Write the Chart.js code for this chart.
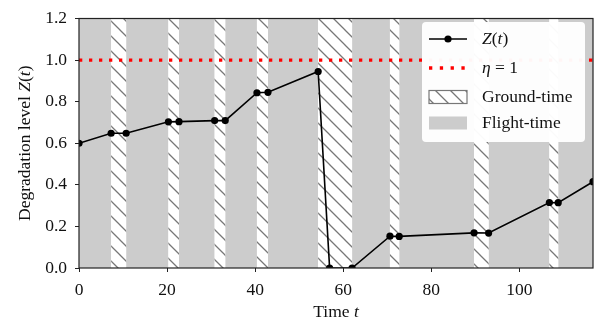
<!DOCTYPE html>
<html>
<head>
<meta charset="utf-8">
<script src="https://cdn.jsdelivr.net/npm/chart.js@4"></script>
<style>
  html, body { margin: 0; padding: 0; background: #fff; }
</style>
</head>
<body>
<canvas id="chart" width="602" height="324"></canvas>
<script>
// --- data ---
const timeT = [0, 7.3, 10.7, 20.3, 22.7, 30.8, 33.2, 40.4, 42.9, 54.3, 56.9, 62.0, 70.6, 72.7, 89.7, 93.0, 106.8, 108.8, 116.7];
const zValues = [0.600, 0.648, 0.648, 0.703, 0.704, 0.709, 0.709, 0.843, 0.845, 0.945, 0, 0, 0.153, 0.152, 0.169, 0.168, 0.315, 0.314, 0.415];
const etaValue = 1;
const groundStart = [7.3, 20.3, 30.8, 40.4, 54.3, 70.6, 89.7, 106.8];
const groundEnd = [10.7, 22.7, 33.2, 42.9, 62.0, 72.7, 93.0, 108.8];
const flightStart = [0, 10.7, 22.7, 33.2, 42.9, 62.0, 72.7, 93.0, 108.8];
const flightEnd = [7.3, 20.3, 30.8, 40.4, 54.3, 70.6, 89.7, 106.8, 116.7];
const yTicks = [0, 0.2, 0.4, 0.6, 0.8, 1.0, 1.2];
const xTicks = [0, 20, 40, 60, 80, 100];

const SERIF = '"Liberation Serif", "DejaVu Serif", serif';
const FS = 17.5;
const GRAY = '#cccccc';
const HATCH = '#777777';

// hatch pattern '\\'
function makeHatch(ctx) {
    const s = 15;
    const c = document.createElement('canvas');
    c.width = s; c.height = s;
    const g = c.getContext('2d');
    g.fillStyle = '#fff';
    g.fillRect(0, 0, s, s);
    g.strokeStyle = HATCH;
    g.lineWidth = 1.3;
    g.beginPath();
    g.moveTo(-2, -2); g.lineTo(s + 2, s + 2);
    g.moveTo(-2, s - 2); g.lineTo(2, s + 2);
    g.moveTo(s - 2, -2); g.lineTo(s + 2, 2);
    g.stroke();
    return ctx.createPattern(c, 'repeat');
}

// texto com partes em itálico
function drawRich(ctx, parts, x, y, align) {
    let total = 0;
    parts.forEach(p => {
        ctx.font = (p[1] ? 'italic ' : '') + FS + 'px ' + SERIF;
        total += ctx.measureText(p[0]).width;
    });
    let cx = align === 'center' ? x - total / 2 : x;
    ctx.textAlign = 'left';
    ctx.textBaseline = 'middle';
    parts.forEach(p => {
        ctx.font = (p[1] ? 'italic ' : '') + FS + 'px ' + SERIF;
        ctx.fillText(p[0], cx, y);
        cx += ctx.measureText(p[0]).width;
    });
}

const stripes = {
    id: 'stripes',
    beforeDatasetsDraw(chart) {
        const { ctx, chartArea: a, scales: { x, y } } = chart;
        const pat = makeHatch(ctx);
        ctx.save();
        ctx.beginPath();
        ctx.rect(a.left, a.top, a.right - a.left, a.bottom - a.top);
        ctx.clip();
        ctx.fillStyle = GRAY;
        flightStart.forEach((s, i) => {
            const x0 = x.getPixelForValue(s), x1 = x.getPixelForValue(flightEnd[i]);
            ctx.fillRect(x0, y.getPixelForValue(1.2), x1 - x0, y.getPixelForValue(0) - y.getPixelForValue(1.2));
        });
        ctx.fillStyle = pat;
        groundStart.forEach((s, i) => {
            const x0 = x.getPixelForValue(s), x1 = x.getPixelForValue(groundEnd[i]);
            ctx.fillRect(x0, y.getPixelForValue(1.2), x1 - x0, y.getPixelForValue(0) - y.getPixelForValue(1.2));
        });
        ctx.restore();
    },
    afterDatasetsDraw(chart) {
        const { ctx, chartArea: a } = chart;
        ctx.save();
        ctx.strokeStyle = '#222';
        ctx.lineWidth = 1.2;
        ctx.strokeRect(a.left, a.top, a.right - a.left, a.bottom - a.top);
        ctx.restore();
    },
    afterDraw(chart) {
        const { ctx, chartArea: a } = chart;
        ctx.save();
        ctx.fillStyle = '#111';
        // axis titles
        drawRich(ctx, [['Time ', false], ['t', true]], (a.left + a.right) / 2, 312, 'center');
        ctx.save();
        ctx.translate(25, (a.top + a.bottom) / 2);
        ctx.rotate(-Math.PI / 2);
        drawRich(ctx, [['Degradation level ', false], ['Z', true], ['(', false], ['t', true], [')', false]], 0, 0, 'center');
        ctx.restore();

        // legend
        const bx = 422, by = 22, bw = 163, bh = 120;
        ctx.fillStyle = 'rgba(255,255,255,0.96)';
        ctx.beginPath();
        ctx.roundRect(bx, by, bw, bh, 4);
        ctx.fill();

        const hx0 = 429, hx1 = 467, tx = 482;
        const rows = [39, 68, 97, 123];
        // Z(t)
        ctx.strokeStyle = '#000';
        ctx.lineWidth = 1.6;
        ctx.beginPath(); ctx.moveTo(hx0, rows[0]); ctx.lineTo(hx1, rows[0]); ctx.stroke();
        ctx.fillStyle = '#000';
        ctx.beginPath(); ctx.arc((hx0 + hx1) / 2, rows[0], 3.6, 0, Math.PI * 2); ctx.fill();
        // eta
        ctx.strokeStyle = '#ff0000';
        ctx.lineWidth = 3.3;
        ctx.setLineDash([3.3, 7.5]);
        ctx.beginPath(); ctx.moveTo(hx0, rows[1]); ctx.lineTo(hx1, rows[1]); ctx.stroke();
        ctx.setLineDash([]);
        // ground
        ctx.fillStyle = makeHatch(ctx);
        ctx.fillRect(hx0, rows[2] - 6.5, hx1 - hx0, 13);
        ctx.strokeStyle = HATCH;
        ctx.lineWidth = 1.2;
        ctx.strokeRect(hx0, rows[2] - 6.5, hx1 - hx0, 13);
        // flight
        ctx.fillStyle = GRAY;
        ctx.fillRect(hx0, rows[3] - 6.5, hx1 - hx0, 13);

        ctx.fillStyle = '#111';
        drawRich(ctx, [['Z', true], ['(', false], ['t', true], [')', false]], tx, rows[0], 'left');
        drawRich(ctx, [['\u03b7', true], [' = 1', false]], tx, rows[1], 'left');
        drawRich(ctx, [['Ground-time', false]], tx, rows[2], 'left');
        drawRich(ctx, [['Flight-time', false]], tx, rows[3], 'left');
        ctx.restore();
    }
};

const tickFont = { family: SERIF, size: FS };

new Chart(document.getElementById('chart'), {
    type: 'line',
    data: {
        datasets: [
            {
                label: 'eta',
                data: [{ x: timeT[0], y: etaValue }, { x: timeT[timeT.length - 1], y: etaValue }],
                borderColor: '#ff0000',
                borderWidth: 3.3,
                borderDash: [3.3, 6.7],
                pointRadius: 0
            },
            {
                label: 'Z(t)',
                data: timeT.map((t, i) => ({ x: t, y: zValues[i] })),
                borderColor: '#000',
                borderWidth: 1.6,
                pointRadius: 3.6,
                pointBackgroundColor: '#000',
                pointBorderWidth: 0,
                tension: 0
            }
        ]
    },
    options: {
        responsive: false,
        animation: false,
        devicePixelRatio: 1,
        layout: { padding: { top: 13, right: 9, left: 0, bottom: 0 } },
        plugins: { legend: { display: false }, tooltip: { enabled: false } },
        scales: {
            x: {
                type: 'linear',
                min: 0,
                max: timeT[timeT.length - 1],
                afterBuildTicks: s => { s.ticks = xTicks.map(v => ({ value: v })); },
                afterFit: s => { s.height = 56; },
                ticks: { font: tickFont, color: '#111', padding: 8, maxRotation: 0 },
                grid: { drawOnChartArea: false, drawTicks: true, tickLength: 4, color: '#222', tickWidth: 1 },
                border: { display: false }
            },
            y: {
                min: 0,
                max: 1.2,
                afterBuildTicks: s => { s.ticks = yTicks.map(v => ({ value: v })); },
                afterFit: s => { s.width = 79; },
                ticks: { font: tickFont, color: '#111', padding: 8, callback: v => v.toFixed(1) },
                grid: { drawOnChartArea: false, drawTicks: true, tickLength: 4, color: '#222', tickWidth: 1 },
                border: { display: false }
            }
        }
    },
    plugins: [stripes]
});
</script>
</body>
</html>
